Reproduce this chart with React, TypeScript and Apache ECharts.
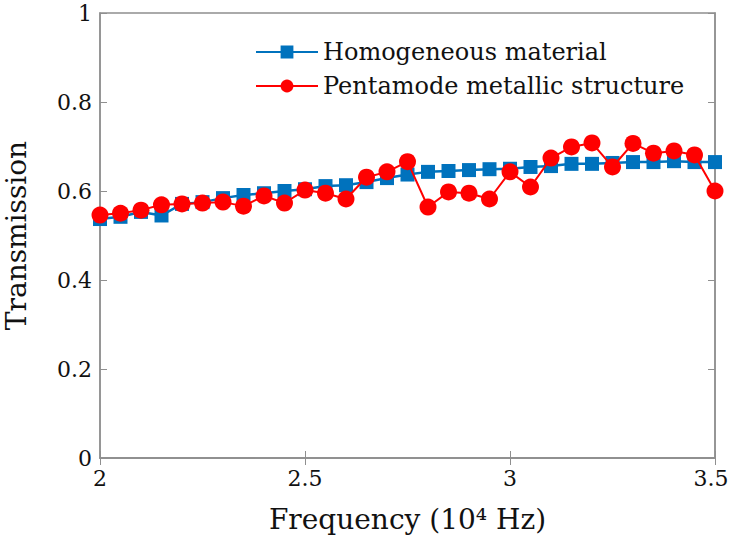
import React, { useEffect, useRef } from "react";
import * as echarts from "echarts";

const frequencies = [2.0, 2.05, 2.1, 2.15, 2.2, 2.25, 2.3, 2.35, 2.4, 2.45, 2.5, 2.55, 2.6, 2.65, 2.7, 2.75, 2.8, 2.85, 2.9, 2.95, 3.0, 3.05, 3.1, 3.15, 3.2, 3.25, 3.3, 3.35, 3.4, 3.45, 3.5];
const homogeneous = [0.537, 0.542, 0.553, 0.545, 0.571, 0.575, 0.584, 0.591, 0.595, 0.6, 0.604, 0.611, 0.613, 0.62, 0.629, 0.637, 0.643, 0.645, 0.647, 0.649, 0.65, 0.654, 0.656, 0.661, 0.661, 0.663, 0.665, 0.665, 0.667, 0.665, 0.665];
const pentamode = [0.546, 0.55, 0.557, 0.569, 0.571, 0.573, 0.575, 0.566, 0.589, 0.573, 0.602, 0.595, 0.582, 0.631, 0.643, 0.666, 0.564, 0.598, 0.595, 0.582, 0.643, 0.609, 0.674, 0.699, 0.708, 0.654, 0.707, 0.685, 0.69, 0.681, 0.6];
const seriesNames = ["Homogeneous material", "Pentamode metallic structure"];
const xTicks = [2, 2.5, 3, 3.5];
const yTicks = [0, 0.2, 0.4, 0.6, 0.8, 1];

const FONT = "DejaVu Serif";
const AXIS_COLOR = "#8f8f8f";

export default function App() {
  const ref = useRef<HTMLDivElement>(null);
  useEffect(() => {
    if (!ref.current) return;
    const chart = echarts.init(ref.current, undefined, { renderer: "svg" });
    const fmtX = (v: number) => {
      if (!xTicks.some((t) => Math.abs(t - v) < 1e-9)) return "";
      return Math.abs(v - 3.5) < 1e-9 ? "{last|" + v + "}" : String(v);
    };
    const fmtY = (v: number) => (yTicks.some((t) => Math.abs(t - v) < 1e-9) ? String(Math.round(v * 10) / 10) : "");
    chart.setOption({
      animation: false,
      backgroundColor: "#ffffff",
      grid: {
        left: 100,
        right: 15,
        top: 13,
        bottom: 80,
        outerBoundsMode: "none",
        containLabel: false,
        show: true,
        borderColor: AXIS_COLOR,
        borderWidth: 1.5,
        backgroundColor: "transparent",
      },
      legend: {
        orient: "vertical",
        left: 250,
        top: 35,
        itemWidth: 62,
        itemHeight: 16,
        itemGap: 10,
        textStyle: { fontFamily: FONT, fontSize: 24, color: "#111" },
        data: seriesNames,
      },
      xAxis: [
        {
          type: "value",
          min: 2,
          max: 3.5,
          interval: 0.5,
          name: "Frequency (10⁴ Hz)",
          nameLocation: "middle",
          nameGap: 47,
          nameTextStyle: { fontFamily: FONT, fontSize: 28, color: "#111" },
          axisLine: { show: true, lineStyle: { color: AXIS_COLOR, width: 1.5 } },
          axisTick: { show: true, inside: true, length: 7, lineStyle: { color: AXIS_COLOR } },
          axisLabel: {
            fontFamily: FONT,
            fontSize: 22,
            color: "#111",
            margin: 9,
            formatter: fmtX,
            rich: { last: { fontFamily: FONT, fontSize: 22, color: "#111", padding: [0, 8, 0, 0] } },
          },
          splitLine: { show: false },
        },
        {
          type: "value",
          position: "top",
          min: 2,
          max: 3.5,
          interval: 0.5,
          axisLine: { show: true, lineStyle: { color: AXIS_COLOR, width: 1.5 } },
          axisTick: { show: true, inside: true, length: 7, lineStyle: { color: AXIS_COLOR } },
          axisLabel: { show: false },
          splitLine: { show: false },
        },
      ],
      yAxis: [
        {
          type: "value",
          min: 0,
          max: 1,
          interval: 0.2,
          name: "Transmission",
          nameLocation: "middle",
          nameGap: 70,
          nameTextStyle: { fontFamily: FONT, fontSize: 28, color: "#111" },
          axisLine: { show: true, lineStyle: { color: AXIS_COLOR, width: 1.5 } },
          axisTick: { show: true, inside: true, length: 7, lineStyle: { color: AXIS_COLOR } },
          axisLabel: { fontFamily: FONT, fontSize: 22, color: "#111", margin: 8, formatter: fmtY },
          splitLine: { show: false },
        },
        {
          type: "value",
          position: "right",
          min: 0,
          max: 1,
          interval: 0.2,
          axisLine: { show: true, lineStyle: { color: AXIS_COLOR, width: 1.5 } },
          axisTick: { show: true, inside: true, length: 7, lineStyle: { color: AXIS_COLOR } },
          axisLabel: { show: false },
          splitLine: { show: false },
        },
      ],
      series: [
        {
          name: seriesNames[0],
          type: "line",
          data: frequencies.map((f, i) => [f, homogeneous[i]]),
          symbol: "rect",
          symbolSize: 14,
          lineStyle: { color: "#0072BD", width: 2.5 },
          itemStyle: { color: "#0072BD" },
          z: 2,
        },
        {
          name: seriesNames[1],
          type: "line",
          data: frequencies.map((f, i) => [f, pentamode[i]]),
          symbol: "circle",
          symbolSize: 17,
          lineStyle: { color: "#FF0000", width: 2 },
          itemStyle: { color: "#FF0000" },
          z: 3,
        },
      ],
    });
    return () => chart.dispose();
  }, []);
  return <div ref={ref} style={{ width: 730, height: 538, position: "absolute", left: 0, top: 0 }} />;
}
